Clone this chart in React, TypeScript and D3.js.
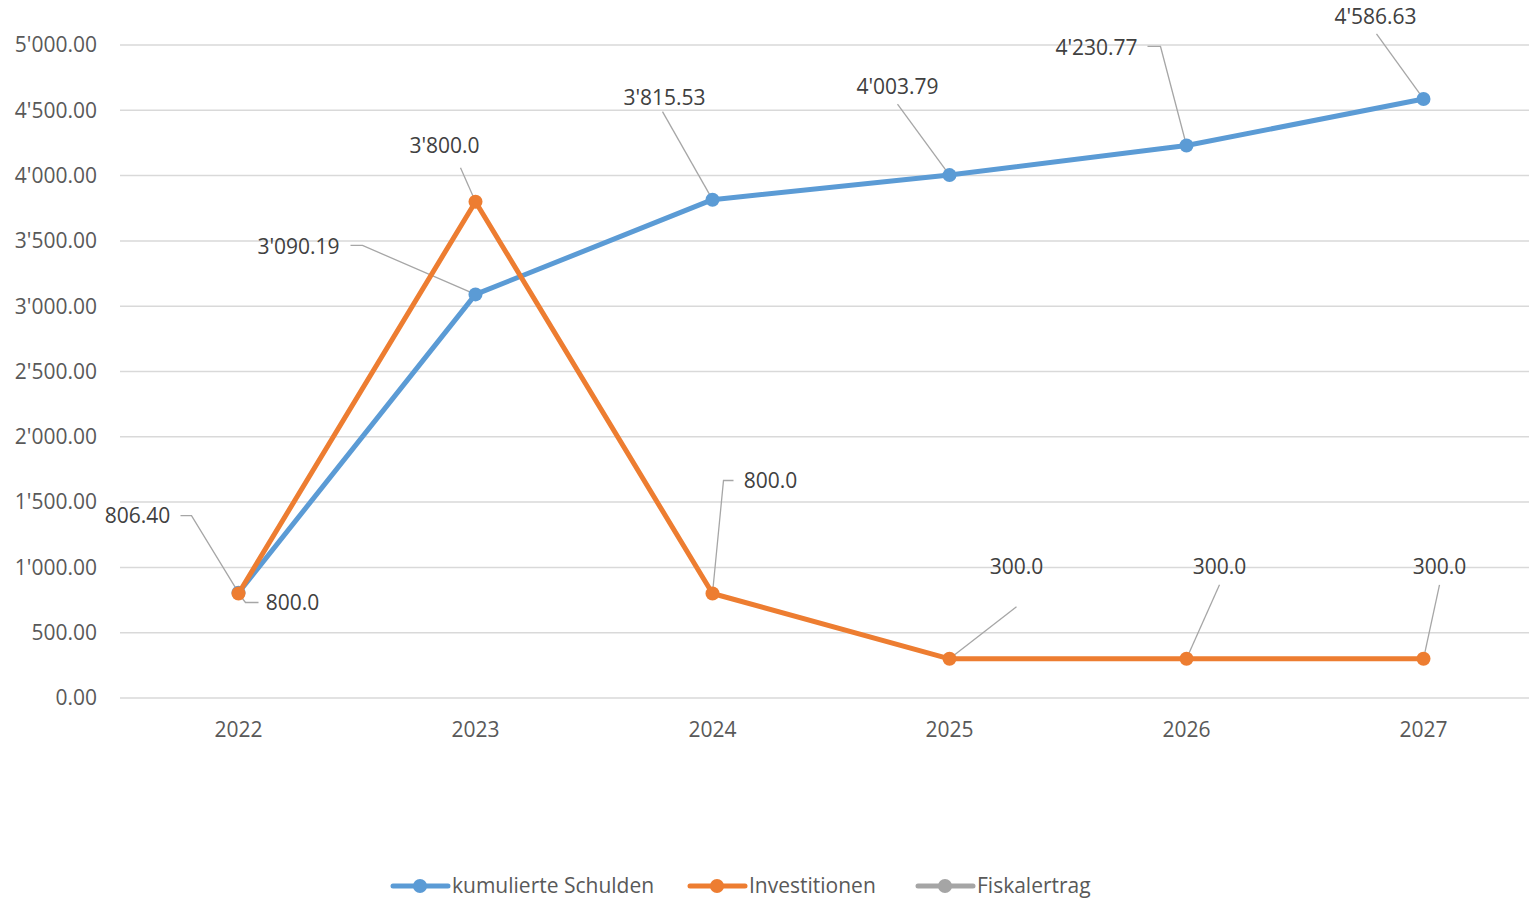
import React from "react";
import * as d3 from "d3";

const years = ["2022", "2023", "2024", "2025", "2026", "2027"];
const schulden = [806.4, 3090.19, 3815.53, 4003.79, 4230.77, 4586.63];
const investitionen = [800, 3800, 800, 300, 300, 300];
const fiskalertrag: number[] = [];
const yTicks = [0, 500, 1000, 1500, 2000, 2500, 3000, 3500, 4000, 4500, 5000];

// label placement relative to each point: text offset + leader elbow
const schuldenLabels = [
  { dx: -101, dy: -77, anchor: "middle", lead: [[-58, -77], [-47, -77]] },
  { dx: -177, dy: -48, anchor: "middle", lead: [[-125, -49], [-113, -49]] },
  { dx: -48, dy: -102, anchor: "middle", lead: [[-50, -88]] },
  { dx: -52, dy: -88, anchor: "middle", lead: [[-52, -71]] },
  { dx: -90, dy: -98, anchor: "middle", lead: [[-39, -99], [-26, -99]] },
  { dx: -48, dy: -82, anchor: "middle", lead: [[-47, -65]] },
];
const investLabels = [
  { dx: 54, dy: 9, anchor: "middle", lead: [[20, 9], [7, 9]] },
  { dx: -31, dy: -56, anchor: "middle", lead: [[-15, -34]] },
  { dx: 58, dy: -113, anchor: "middle", lead: [[21, -113], [11, -113]] },
  { dx: 67, dy: -92, anchor: "middle", lead: [[67, -52]] },
  { dx: 33, dy: -92, anchor: "middle", lead: [[33, -74]] },
  { dx: 16, dy: -92, anchor: "middle", lead: [[16, -74]] },
];

const fmt2 = (v: number) => d3.format(",.2f")(v).replace(/,/g, "'");
const fmt1 = (v: number) => d3.format(",.1f")(v).replace(/,/g, "'");

const BLUE = "#5B9BD5";
const ORANGE = "#ED7D31";
const GREY = "#A5A5A5";
const FONT = "'Open Sans', sans-serif";
const FS = 21;

export default function App() {
  const width = 1529;
  const height = 900;
  const x = d3.scalePoint<string>().domain(years).range([120, 1542]).padding(0.5);
  const y = d3.scaleLinear().domain([0, 5000]).range([698, 45]);

  const line = d3
    .line<number>()
    .x((_, i) => x(years[i]) as number)
    .y((d) => y(d));

  const series = [
    { name: "kumulierte Schulden", color: BLUE, values: schulden, labels: schuldenLabels, fmt: fmt2 },
    { name: "Investitionen", color: ORANGE, values: investitionen, labels: investLabels, fmt: fmt1 },
    { name: "Fiskalertrag", color: GREY, values: fiskalertrag, labels: [], fmt: fmt2 },
  ];

  const legendX = [393, 690, 918];

  return (
    <div style={{ position: "absolute", left: 0, top: 0 }}>
      <svg width={width} height={height} style={{ display: "block", background: "#fff" }}>
        {yTicks.map((t) => (
          <g key={t}>
            <line x1={120} x2={1542} y1={y(t)} y2={y(t)} stroke="#D9D9D9" strokeWidth={1.5} />
            <text x={97} y={y(t)} dy="0.35em" textAnchor="end" fontFamily={FONT} fontSize={FS} fill="#595959">
              {fmt2(t)}
            </text>
          </g>
        ))}
        {years.map((yr) => (
          <text key={yr} x={x(yr)} y={730} dy="0.35em" textAnchor="middle" fontFamily={FONT} fontSize={FS} fill="#595959">
            {yr}
          </text>
        ))}

        {/* leader lines */}
        {series.map((s) =>
          s.labels.map((l, i) => {
            const px = x(years[i]) as number;
            const py = y(s.values[i]);
            const pts = [...l.lead.map(([a, b]) => [px + a, py + b]), [px, py]];
            return (
              <polyline
                key={s.name + i}
                points={pts.map((p) => p.join(",")).join(" ")}
                fill="none"
                stroke="#A6A6A6"
                strokeWidth={1.3}
              />
            );
          })
        )}

        {series.map((s) => (
          <g key={s.name}>
            {s.values.length > 0 && (
              <path d={line(s.values) as string} fill="none" stroke={s.color} strokeWidth={5} strokeLinejoin="round" />
            )}
            {s.values.map((v, i) => (
              <circle key={i} cx={x(years[i])} cy={y(v)} r={7} fill={s.color} />
            ))}
          </g>
        ))}

        {series.map((s) =>
          s.labels.map((l, i) => (
            <text
              key={s.name + "t" + i}
              x={(x(years[i]) as number) + l.dx}
              y={y(s.values[i]) + l.dy}
              dy="0.35em"
              textAnchor={l.anchor}
              fontFamily={FONT}
              fontSize={FS}
              fill="#404040"
            >
              {s.fmt(s.values[i])}
            </text>
          ))
        )}

        {series.map((s, i) => (
          <g key={s.name + "leg"} transform={`translate(${legendX[i]},886)`}>
            <line x1={0} x2={55} y1={0} y2={0} stroke={s.color} strokeWidth={5} strokeLinecap="round" />
            <circle cx={27} cy={0} r={7} fill={s.color} />
            <text x={59} y={0} dy="0.35em" fontFamily={FONT} fontSize={FS} fill="#595959">
              {s.name}
            </text>
          </g>
        ))}
      </svg>
    </div>
  );
}
